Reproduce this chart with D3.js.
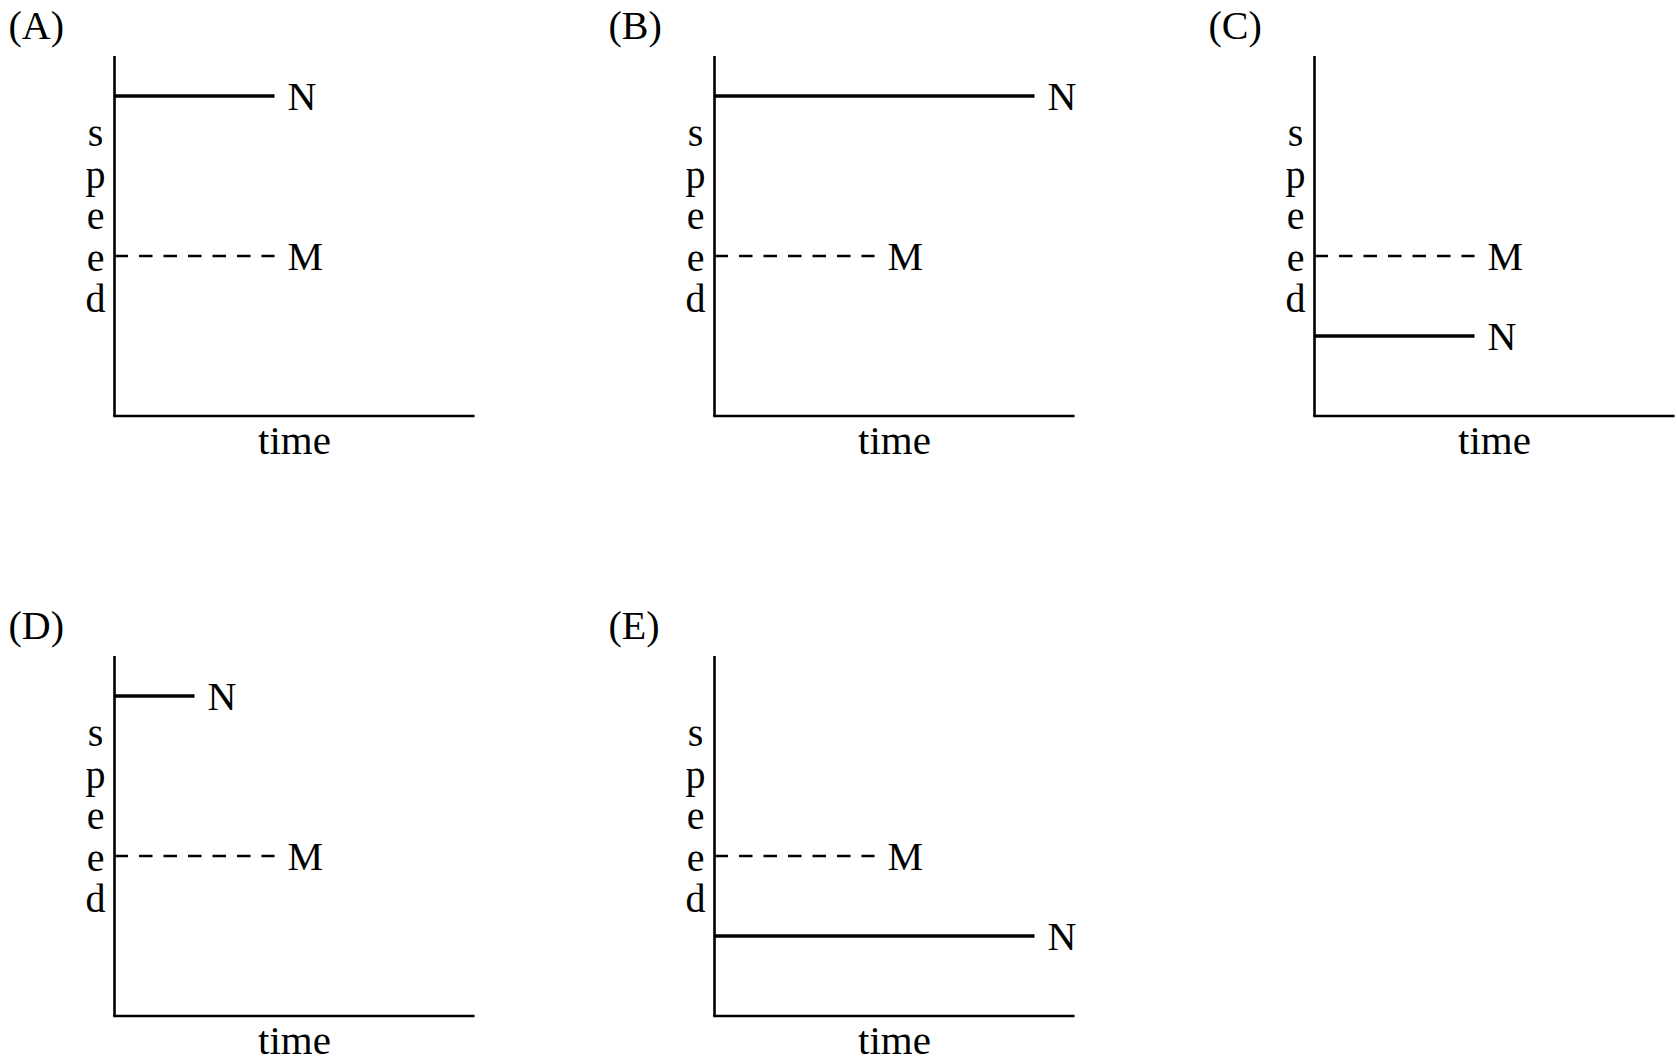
<!DOCTYPE html>
<html>
<head>
<meta charset="utf-8">
<script src="https://cdn.jsdelivr.net/npm/d3@7"></script>
<style>
  body { margin: 0; background: #fff; }
  text { font-family: "Liberation Serif", "DejaVu Serif", serif; fill: #000; }
</style>
</head>
<body>
<div id="chart"></div>
<script>
// five answer choices, speed vs time for cars N (solid) and M (dashed)
var panels = ["(A)", "(B)", "(C)", "(D)", "(E)"];
var nSpeed = [8, 8, 2, 8, 2];
var nTime = [4, 8, 4, 2, 8];
var mSpeed = [4, 4, 4, 4, 4];
var mTime = [4, 4, 4, 4, 4];
var yLetters = ["s", "p", "e", "e", "d"];

var width = 360, height = 360;
var margin = {left: 114.5, top: 56};

var svg = d3.select("#chart")
    .append("svg")
        .attr("width", 1677)
        .attr("height", 1064);

var x = d3.scaleLinear().domain([0, 9]).range([0, width]);
var y = d3.scaleLinear().domain([0, 9]).range([height, 0]);

panels.forEach(function(label, i) {
    var col = i % 3, row = Math.floor(i / 3);
    var g = svg.append("g")
        .attr("transform", "translate(" + (margin.left + col * 600) + "," + (margin.top + row * 600) + ")");

    // panel letter
    g.append("text")
        .attr("x", -106)
        .attr("y", -17)
        .style("font-size", "40px")
        .text(label);

    // axes, no ticks
    g.append("line")
        .attr("x1", x(0)).attr("x2", x(0))
        .attr("y1", y(9)).attr("y2", y(0))
        .attr("stroke", "#000").attr("stroke-width", 2.6);
    g.append("line")
        .attr("x1", x(0) - 1.3).attr("x2", x(9))
        .attr("y1", y(0)).attr("y2", y(0))
        .attr("stroke", "#000").attr("stroke-width", 2.6);

    // stacked y label
    g.selectAll(".ylab")
        .data(yLetters)
        .enter()
        .append("text")
        .attr("class", "ylab")
        .attr("x", -19)
        .attr("y", function(d, j) { return 90 + j * 41.5; })
        .attr("text-anchor", "middle")
        .style("font-size", "40px")
        .text(function(d) { return d; });

    g.append("text")
        .attr("x", width / 2)
        .attr("y", height + 38)
        .attr("text-anchor", "middle")
        .style("font-size", "41px")
        .text("time");

    // M, dashed
    g.append("line")
        .attr("x1", x(0)).attr("x2", x(mTime[i]))
        .attr("y1", y(mSpeed[i])).attr("y2", y(mSpeed[i]))
        .attr("stroke", "#000").attr("stroke-width", 2.6)
        .attr("stroke-dasharray", "13.5,11");
    g.append("text")
        .attr("x", x(mTime[i]) + 13)
        .attr("y", y(mSpeed[i]) + 13.5)
        .style("font-size", "40px")
        .text("M");

    // N, solid
    g.append("line")
        .attr("x1", x(0)).attr("x2", x(nTime[i]))
        .attr("y1", y(nSpeed[i])).attr("y2", y(nSpeed[i]))
        .attr("stroke", "#000").attr("stroke-width", 3.4);
    g.append("text")
        .attr("x", x(nTime[i]) + 13)
        .attr("y", y(nSpeed[i]) + 13.5)
        .style("font-size", "40px")
        .text("N");
});
</script>
</body>
</html>
